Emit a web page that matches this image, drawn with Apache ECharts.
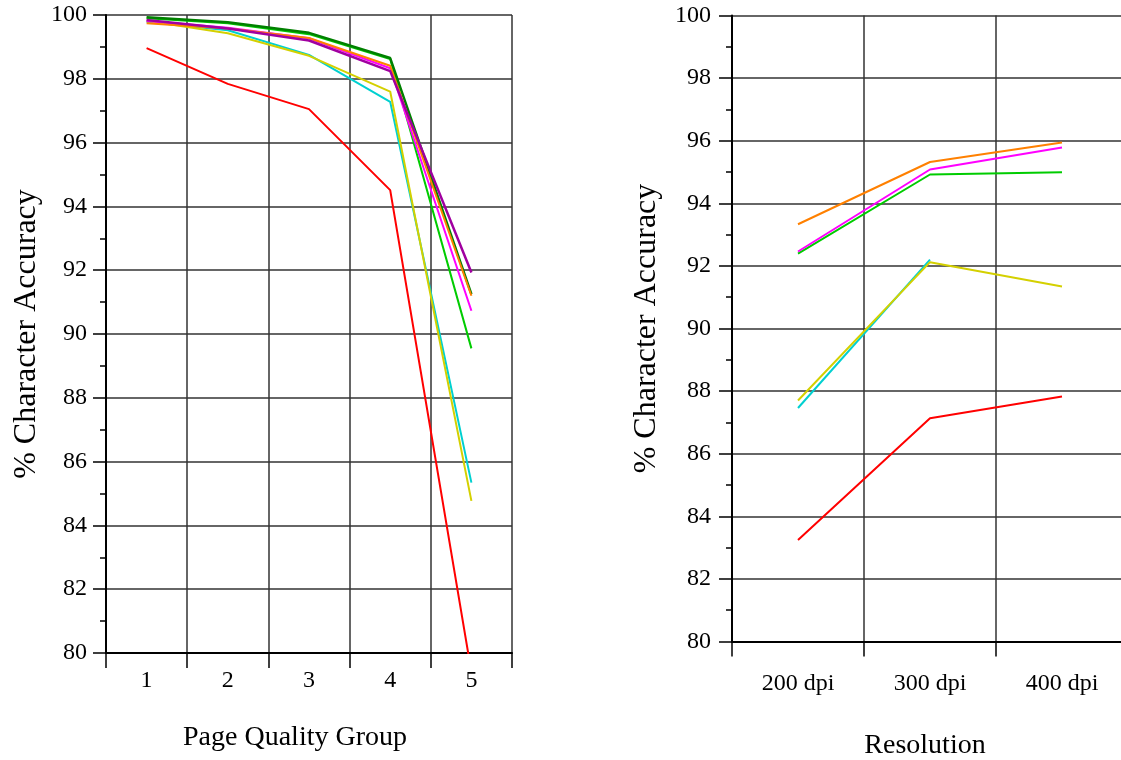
<!DOCTYPE html>
<html>
<head>
<meta charset="utf-8">
<script src="https://cdn.jsdelivr.net/npm/echarts@6/dist/echarts.min.js"></script>
<style>
  html, body { margin: 0; padding: 0; background: #fff; }
  #main { width: 1121px; height: 760px; }
</style>
</head>
<body>
<div id="main"></div>
<script>
// left panel: accuracy by page quality group
var qualityGroups = ['1', '2', '3', '4', '5'];
var pageRed       = [98.96, 97.84, 97.05, 94.51, 79.4];
var pageCyan      = [99.79, 99.52, 98.75, 97.28, 85.34];
var pageYellow    = [99.82, 99.43, 98.72, 97.60, 84.77];
var pageGreen     = [99.90, 99.74, 99.40, 98.62, 89.55];
var pageDarkGreen = [99.93, 99.77, 99.44, 98.65, 91.25];
var pageMagenta   = [99.81, 99.60, 99.27, 98.33, 90.73];
var pageOrange    = [99.74, 99.58, 99.28, 98.41, 91.20];
var pagePurple    = [99.84, 99.58, 99.20, 98.24, 91.93];

// right panel: accuracy by scan resolution
var resolutions = ['200 dpi', '300 dpi', '400 dpi'];
var resOrange  = [93.33, 95.32, 95.94];
var resMagenta = [92.46, 95.08, 95.78];
var resGreen   = [92.39, 94.92, 94.99];
var resYellow  = [87.70, 92.12, 91.34];
var resCyan    = [87.46, 92.20, null];
var resRed     = [83.24, 87.13, 87.83];

var yMin = 80, yMax = 100, yStep = 2;

var font = 'Liberation Serif';

var myChart = echarts.init(document.getElementById('main'), null, { renderer: 'canvas' });

function yAxisFor(grid, margin, gap) {
    return {
        type: 'value',
        gridIndex: grid,
        min: yMin,
        max: yMax,
        interval: yStep,
        name: '% Character Accuracy',
        nameLocation: 'middle',
        nameRotate: 90,
        nameGap: gap,
        nameTextStyle: { fontFamily: font, fontSize: 32, color: '#000' },
        axisLine: { show: true, lineStyle: { color: '#000', width: 2 } },
        axisTick: { show: true, length: 13, lineStyle: { color: '#000', width: 1.5 } },
        minorTick: { show: true, splitNumber: 2, length: 6, lineStyle: { color: '#000', width: 1.5 } },
        axisLabel: { margin: margin, fontFamily: font, fontSize: 24, color: '#000' },
        splitLine: { show: true, lineStyle: { color: '#333', width: 1.5 } }
    };
}

function xAxisFor(grid, cats, margin, gap, pad) {
    return {
        type: 'category',
        gridIndex: grid,
        data: cats,
        boundaryGap: true,
        name: grid === 0 ? 'Page Quality Group' : 'Resolution',
        nameLocation: 'middle',
        nameGap: gap,
        nameTextStyle: { fontFamily: font, fontSize: 28, color: '#000', padding: pad },
        axisLine: { show: true, lineStyle: { color: '#000', width: 2 } },
        axisTick: { show: true, length: 15, lineStyle: { color: '#000', width: 1.5 } },
        axisLabel: { margin: margin, fontFamily: font, fontSize: 24, color: '#000' },
        splitLine: { show: true, lineStyle: { color: '#333', width: 1.5 } }
    };
}

function line(name, grid, data, color, width) {
    return {
        name: name,
        type: 'line',
        xAxisIndex: grid,
        yAxisIndex: grid,
        data: data,
        symbol: 'none',
        clip: true,
        lineStyle: { color: color, width: width || 2 },
        itemStyle: { color: color }
    };
}

var option = {
    backgroundColor: '#fff',
    animation: false,
    grid: [
        { left: 106, top: 15, width: 406, bottom: 107, containLabel: false, outerBoundsMode: 'none' },
        { left: 732, top: 15.5, width: 396, bottom: 118.5, containLabel: false, outerBoundsMode: 'none' }
    ],
    xAxis: [
        xAxisFor(0, qualityGroups, 16, 71, [0, 28, 0, 0]),
        xAxisFor(1, resolutions, 30, 90, [0, 10, 0, 0])
    ],
    yAxis: [
        yAxisFor(0, 19, 63),
        yAxisFor(1, 21, 69)
    ],
    series: [
        line('red', 0, pageRed, '#ff0000'),
        line('cyan', 0, pageCyan, '#00d0d0'),
        line('yellow', 0, pageYellow, '#d4d000'),
        line('green', 0, pageGreen, '#00cc00'),
        line('darkgreen', 0, pageDarkGreen, '#008000', 2.5),
        line('magenta', 0, pageMagenta, '#ff00ff'),
        line('orange', 0, pageOrange, '#ff8000'),
        line('purple', 0, pagePurple, '#a000a0', 2.5),

        line('red', 1, resRed, '#ff0000'),
        line('cyan', 1, resCyan, '#00d0d0'),
        line('yellow', 1, resYellow, '#d4d000'),
        line('green', 1, resGreen, '#00cc00'),
        line('magenta', 1, resMagenta, '#ff00ff'),
        line('orange', 1, resOrange, '#ff8000')
    ]
};

myChart.setOption(option);
window.addEventListener('resize', myChart.resize);
</script>
</body>
</html>
